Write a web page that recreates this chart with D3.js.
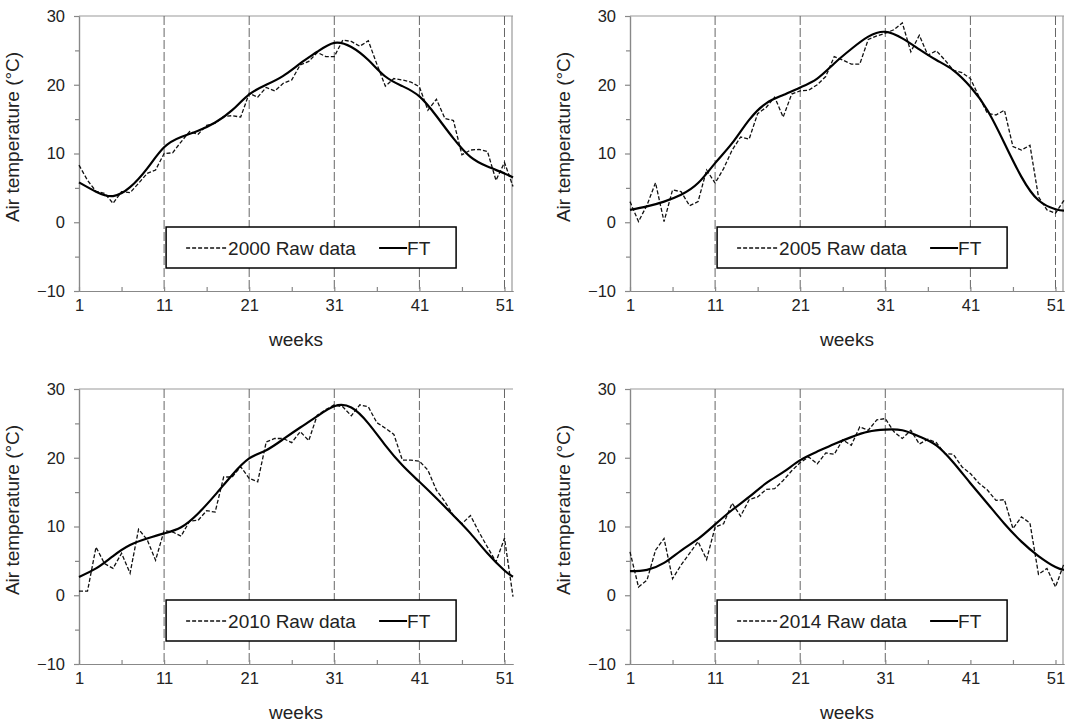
<!DOCTYPE html>
<html>
<head>
<meta charset="utf-8">
<script src="https://cdn.jsdelivr.net/npm/d3@7"></script>
<style>
  body { margin: 0; background: #fff; }
  svg { display: block; font-family: "Liberation Sans", Arial, sans-serif; }
</style>
</head>
<body>
<svg id="chart" width="1066" height="723"></svg>
<script>
// weekly air temperature
var years = ['2000', '2005', '2010', '2014'];

var raw2000 = [8.3, 6.1, 4.5, 4.2, 2.75, 4.45, 4.3, 5.66, 7.1, 7.6, 10.0, 10.1, 11.7, 13.2, 12.8, 14.1, 14.4, 15.4, 15.5, 15.3,
  18.75, 18.2, 19.6, 19.1, 20.2, 20.7, 22.9, 23.4, 24.7, 24.1, 24.1, 26.5, 26.3, 25.6, 26.4, 23.0, 19.8, 20.9, 20.7, 20.4,
  19.7, 16.3, 17.9, 15.1, 14.8, 9.8, 10.5, 10.6, 10.3, 6.1, 8.7, 5.2];
var raw2005 = [3.0, 0.1, 2.5, 5.75, 0.1, 4.7, 4.45, 2.4, 3.0, 7.6, 5.7, 7.8, 10.5, 12.4, 12.1, 15.8, 16.7, 18.2, 15.3, 18.65,
  19.1, 19.2, 20.0, 21.2, 24.1, 23.6, 23.0, 23.0, 26.6, 27.1, 27.5, 28.0, 29.0, 24.8, 27.2, 24.3, 24.95, 23.6, 22.1, 21.75,
  20.9, 18.3, 15.85, 15.6, 16.3, 11.0, 10.5, 11.2, 3.7, 1.8, 1.3, 3.2];
var raw2010 = [0.6, 0.6, 7.0, 4.6, 3.9, 6.1, 3.2, 9.6, 8.1, 5.1, 9.4, 9.2, 8.6, 10.8, 10.9, 12.3, 12.1, 17.2, 17.2, 18.7,
  17.0, 16.5, 22.3, 22.8, 22.8, 22.2, 23.8, 22.5, 26.2, 27.0, 27.7, 27.4, 26.1, 27.7, 27.4, 25.1, 24.3, 23.4, 19.65, 19.65,
  19.5, 18.2, 15.3, 13.6, 11.6, 10.4, 11.6, 9.2, 7.0, 4.85, 8.3, -0.2];
var raw2014 = [6.3, 1.2, 2.2, 6.55, 8.25, 2.4, 4.4, 6.1, 7.8, 5.2, 9.9, 10.4, 13.4, 11.5, 13.9, 14.3, 15.4, 15.5, 16.7, 18.1,
  19.3, 20.1, 19.1, 20.7, 20.5, 22.6, 21.8, 24.5, 24.0, 25.5, 25.7, 23.8, 22.8, 24.0, 22.0, 22.7, 22.2, 20.6, 20.5, 18.7,
  17.7, 16.3, 15.3, 13.8, 13.9, 9.7, 11.4, 10.5, 3.05, 3.9, 1.2, 4.6];

// fitted (FT) curve, read at weeks 1,3,5,...,51 and 52
var ftWeeks = [1, 3, 5, 7, 9, 11, 13, 15, 17, 19, 21, 23, 25, 27, 29, 31, 33, 35, 37, 39, 41, 43, 45, 47, 49, 51, 52];
var ft2000 = [5.8, 4.45, 3.8, 5.1, 7.8, 10.9, 12.4, 13.3, 14.5, 16.3, 18.6, 20.0, 21.3, 23.1, 24.8, 26.1, 25.5, 23.6, 21.2, 19.8,
  18.3, 15.45, 12.2, 9.5, 8.1, 7.1, 6.5];
var ft2005 = [1.8, 2.3, 3.0, 4.0, 5.7, 8.6, 11.5, 14.9, 17.3, 18.5, 19.6, 20.9, 23.1, 25.2, 27.0, 27.7, 26.75, 25.15, 23.6, 22.1,
  19.7, 16.3, 11.5, 6.6, 3.2, 1.9, 1.7];
var ft2010 = [2.67, 3.9, 5.7, 7.3, 8.25, 9.0, 9.9, 11.9, 14.6, 17.5, 19.9, 21.1, 22.7, 24.4, 26.05, 27.5, 27.3, 25.0, 21.8, 18.9,
  16.5, 14.1, 11.6, 9.0, 6.1, 3.6, 2.7];
var ft2014 = [3.5, 3.7, 4.7, 6.5, 8.2, 10.3, 12.4, 14.3, 16.3, 17.9, 19.65, 20.9, 22.0, 23.0, 23.8, 24.1, 24.0, 23.1, 21.8, 19.3,
  16.3, 13.35, 10.4, 7.8, 5.7, 4.1, 3.7];

var weekTicks = [1, 11, 21, 31, 41, 51];
var minorWeekTicks = [6, 16, 26, 36, 46];
var tempTicks = [-10, 0, 10, 20, 30];
var minorTempTicks = [-5, 5, 15, 25];
var gridWeeks = [[11, 21, 31, 41, 51], [11, 21, 31, 41, 51], [11, 21, 31, 41, 51], [11, 21, 31]];

var rawSeries = [raw2000, raw2005, raw2010, raw2014];
var ftSeries = [ft2000, ft2005, ft2010, ft2014];

var panels = [
  {left: 79, top: 16, rightBorder: true},
  {left: 630, top: 16, rightBorder: true},
  {left: 79, top: 389, rightBorder: false},
  {left: 630, top: 389, rightBorder: true}
];
var pw = 434, ph = 275;

var svg = d3.select('#chart');

panels.forEach(function (p, i) {
  var x = d3.scaleLinear().domain([1, 52]).range([0, pw]);
  var y = d3.scaleLinear().domain([-10, 30]).range([ph, 0]);

  var g = svg.append('g').attr('transform', `translate(${p.left},${p.top})`);

  // top + right frame
  g.append('line').attr('x1', 0).attr('x2', pw).attr('y1', 0).attr('y2', 0)
    .attr('stroke', '#999').attr('stroke-width', 1.2);
  if (p.rightBorder) {
    g.append('line').attr('x1', pw - 1).attr('x2', pw - 1).attr('y1', 0).attr('y2', ph)
      .attr('stroke', '#999').attr('stroke-width', 1.2);
  }

  // dashed week lines
  g.append('g').selectAll('line')
    .data(gridWeeks[i])
    .join('line')
    .attr('x1', d => x(d)).attr('x2', d => x(d))
    .attr('y1', 0).attr('y2', ph)
    .attr('stroke', '#666')
    .attr('stroke-dasharray', '9,3');

  // axes
  g.append('g')
    .call(d3.axisLeft(y).tickValues(tempTicks).tickSize(5).tickSizeOuter(0).tickPadding(9));
  g.append('g')
    .call(d3.axisLeft(y).tickValues(minorTempTicks).tickSize(4).tickSizeOuter(0).tickFormat(''));
  g.append('g').attr('transform', `translate(0,${ph})`)
    .call(d3.axisBottom(x).tickValues(weekTicks).tickSize(-4).tickSizeOuter(0).tickPadding(8));
  g.append('g').attr('transform', `translate(0,${ph})`)
    .call(d3.axisBottom(x).tickValues(minorWeekTicks).tickSize(-4).tickSizeOuter(0).tickFormat(''));

  g.selectAll('.domain, .tick line').attr('stroke', '#888').attr('stroke-width', 1.2);
  g.selectAll('.tick text').attr('fill', '#222').style('font-size', '16.5px')
    .style('font-family', '"Liberation Sans", Arial, sans-serif');

  // axis titles
  g.append('text')
    .attr('transform', `translate(${-60},${121}) rotate(-90)`)
    .attr('text-anchor', 'middle')
    .attr('fill', '#222')
    .style('font-size', '19px')
    .text('Air temperature (°C)');

  g.append('text')
    .attr('x', pw / 2).attr('y', ph + 55)
    .attr('text-anchor', 'middle')
    .attr('fill', '#222')
    .style('font-size', '19px')
    .text('weeks');

  // legend
  var lg = g.append('g').attr('transform', `translate(${x(11) + 2},${211})`);
  lg.append('rect').attr('width', 290).attr('height', 41)
    .attr('fill', '#fff').attr('stroke', '#000').attr('stroke-width', 1.5);
  lg.append('line').attr('x1', 20).attr('x2', 61).attr('y1', 21).attr('y2', 21)
    .attr('stroke', '#111').attr('stroke-width', 1.3).attr('stroke-dasharray', '4,2');
  lg.append('text').attr('x', 62).attr('y', 28).attr('fill', '#222')
    .style('font-size', '19px').text(years[i] + ' Raw data');
  lg.append('line').attr('x1', 213).attr('x2', 241).attr('y1', 21).attr('y2', 21)
    .attr('stroke', '#000').attr('stroke-width', 2);
  lg.append('text').attr('x', 241).attr('y', 28).attr('fill', '#222')
    .style('font-size', '19px').text('FT');

  // raw data line (dashed)
  var rawLine = d3.line().x((d, k) => x(k + 1)).y(d => y(d));
  g.append('path')
    .datum(rawSeries[i])
    .attr('fill', 'none')
    .attr('stroke', '#111')
    .attr('stroke-width', 1.3)
    .attr('stroke-dasharray', '4,2')
    .attr('d', rawLine);

  // fitted line
  var ftLine = d3.line().curve(d3.curveNatural).x((d, k) => x(ftWeeks[k])).y(d => y(d));
  g.append('path')
    .datum(ftSeries[i])
    .attr('fill', 'none')
    .attr('stroke', '#000')
    .attr('stroke-width', 2.2)
    .attr('d', ftLine);
});
</script>
</body>
</html>
